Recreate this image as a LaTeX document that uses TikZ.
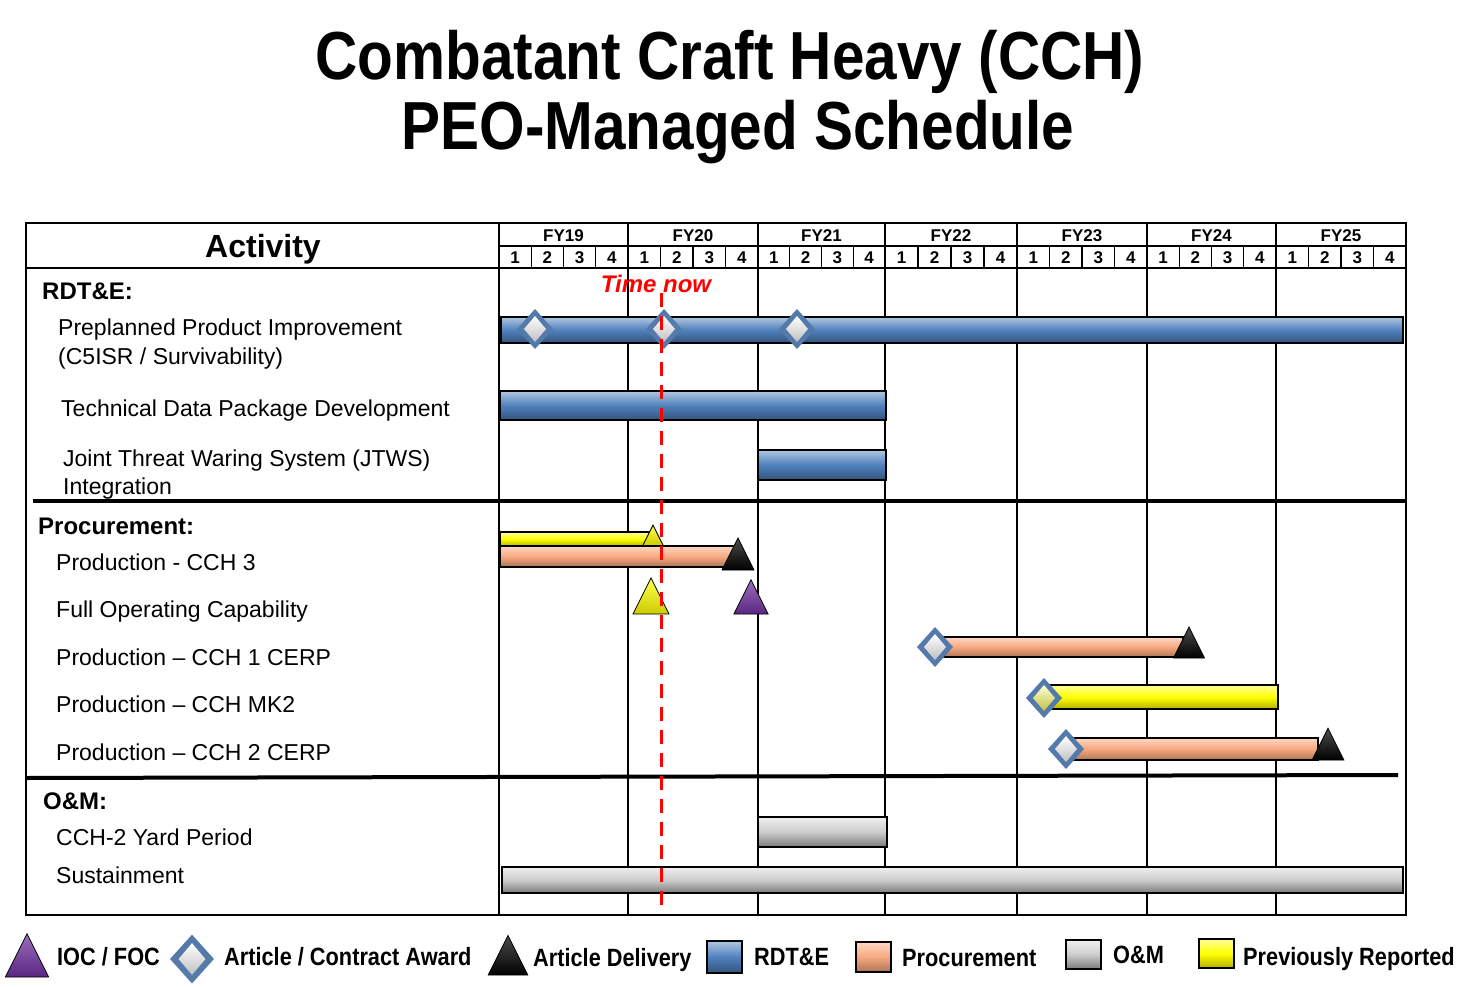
\documentclass[tikz,border=0pt]{standalone}
\usepackage{fontspec}
\setmainfont{Liberation Sans}
\definecolor{rdtblue}{RGB}{79,129,189}
\definecolor{procorange}{RGB}{247,168,126}
\definecolor{omgray}{RGB}{204,204,204}
\definecolor{prevyellow}{RGB}{255,255,0}
\definecolor{iocpurple}{RGB}{112,48,160}
\definecolor{rimblue}{RGB}{84,122,172}
\begin{document}
\begin{tikzpicture}[x=1pt, y=-1pt, every node/.style={inner sep=0pt},
  title/.style={anchor=base, font=\fontsize{68}{80}\selectfont\bfseries, xscale=0.86},
  rowlabel/.style={anchor=base west, font=\fontsize{23}{27}\selectfont},
  section/.style={anchor=base west, font=\fontsize{24}{28}\selectfont\bfseries},
  fylabel/.style={anchor=base, font=\fontsize{17}{20}\selectfont\bfseries},
  legendtext/.style={anchor=base west, font=\fontsize{25}{30}\selectfont\bfseries, xscale=0.87},
  gridline/.style={line width=1.6pt},
  sectionrule/.style={line width=4pt},
  timenow/.style={red, line width=3pt, dash pattern=on 14pt off 9pt},
  bar/.style={draw=black, line width=1.2pt},
  rdtbar/.style={bar, top color=rdtblue!45!white, bottom color=rdtblue!65!black, middle color=rdtblue},
  procbar/.style={bar, top color=procorange!45!white, bottom color=procorange!70!black, middle color=procorange},
  ombar/.style={bar, top color=omgray!30!white, bottom color=omgray!60!black, middle color=omgray},
  prevbar/.style={bar, top color=prevyellow!40!white, bottom color=prevyellow!70!black, middle color=prevyellow},
  award/.pic={
    \fill[rimblue] (0,-20) -- (18,0) -- (0,20) -- (-18,0) -- cycle;
    \shade[top color=#1!15!white, bottom color=#1!50!gray] (0,-13) -- (11,0) -- (0,13) -- (-11,0) -- cycle;
  },
  tri/.pic={
    \shade[draw=black, line width=0.8pt, top color=#1!70!white, bottom color=#1!80!black] (0,-36) -- (18,0) -- (-18,0) -- cycle;
  }]
\useasboundingbox (0,0) rectangle (1475,987);

\node[title] (title1) at (730,80) {Combatant Craft Heavy (CCH)};
\node[title] (title2) at (738,150) {PEO-Managed Schedule};

% table frame and header
\draw[gridline] (26,223) rectangle (1406,915);
\draw[gridline] (499,223) -- (499,915);
\draw[gridline] (26,268) -- (1406,268);
\draw[gridline] (499,246) -- (1406,246);
\foreach \x in {628,758,885,1017,1147,1276}
  \draw[gridline] (\x,223) -- (\x,915);
\foreach \a/\b/\fy in {499/628/19, 628/758/20, 758/885/21, 885/1017/22, 1017/1147/23, 1147/1276/24, 1276/1406/25} {
  \node[fylabel] (fy\fy) at ({(\a+\b)/2},241) {FY\fy};
  \foreach \q in {1,...,4}
    \node[fylabel] (q\fy-\q) at ({\a+(\q-0.5)*(\b-\a)/4},263) {\q};
  \foreach \q in {1,2,3}
    \draw[line width=1.2pt] ({\a+\q*(\b-\a)/4},246) -- ({\a+\q*(\b-\a)/4},268);
}
\node[anchor=base, font=\fontsize{32}{38}\selectfont\bfseries] (activity) at (263,257) {Activity};
\draw[sectionrule] (33,501) -- (1406,501);
\draw[sectionrule] (26,778) -- (1398,775);

% activity labels
\node[section] (rdte) at (42,299) {RDT\&E:};
\node[rowlabel] (ppi1) at (58,335) {Preplanned Product Improvement};
\node[rowlabel] (ppi2) at (58,364) {(C5ISR / Survivability)};
\node[rowlabel] (tdp) at (61,416) {Technical Data Package Development};
\node[rowlabel] (jtws1) at (63,466) {Joint Threat Waring System (JTWS)};
\node[rowlabel] (jtws2) at (63,494) {Integration};
\node[section] (proc) at (38,534) {Procurement:};
\node[rowlabel] (cch3) at (56,570) {Production - CCH 3};
\node[rowlabel] (foc) at (56,617) {Full Operating Capability};
\node[rowlabel] (cch1) at (56,665) {Production -- CCH 1 CERP};
\node[rowlabel] (mk2) at (56,712) {Production -- CCH MK2};
\node[rowlabel] (cch2) at (56,760) {Production -- CCH 2 CERP};
\node[section] (om) at (43,809) {O\&M:};
\node[rowlabel] (yard) at (56,845) {CCH-2 Yard Period};
\node[rowlabel] (sust) at (56,883) {Sustainment};

% bars
\draw[rdtbar] (501,317) rectangle (1403,343);
\draw[rdtbar] (500,391) rectangle (886,420);
\draw[rdtbar] (758,450) rectangle (886,480);
\draw[prevbar] (500,532) rectangle (650,546);
\pic[scale=0.58] at (653,546) {tri=prevyellow};
\draw[procbar] (500,546) rectangle (735,567);
\draw[procbar] (935,637) rectangle (1183,657);
\draw[prevbar] (1044,685) rectangle (1278,709);
\draw[procbar] (1066,738) rectangle (1318,760);
\draw[ombar] (758,817) rectangle (887,847);
\draw[ombar] (502,867) rectangle (1403,893);

% milestones
\foreach \x in {535,664,797}
  \pic at (\x,329) {award=white};
\pic[scale=0.89] at (738,570) {tri=black};
\pic at (651,614) {tri=prevyellow};
\pic[scale=0.95] at (751,614) {tri=iocpurple};
\pic at (935,647) {award=white};
\pic[scale=0.86] at (1189,658) {tri=black};
\pic at (1044,698) {award=prevyellow};
\pic at (1066,749) {award=white};
\pic[scale=0.88] at (1328,760) {tri=black};

% time now
\node[anchor=base, text=red, font=\fontsize{24}{28}\selectfont\bfseries\itshape] (now) at (656,292) {Time now};
\draw[timenow] (661,293) -- (661,905);

% legend
\pic[scale=1.2] at (27,977) {tri=iocpurple};
\node[legendtext] (legioc) at (57,965) {IOC / FOC};
\pic[scale=1.22] at (192,959) {award=white};
\node[legendtext] (legaward) at (224,965) {Article / Contract Award};
\pic[scale=1.1] at (508,975) {tri=black};
\node[legendtext] (legdel) at (533,966) {Article Delivery};
\draw[rdtbar, line width=2pt] (707,941) rectangle (742,973);
\node[legendtext] (legrdte) at (754,965) {RDT\&E};
\draw[procbar, line width=2pt] (856,942) rectangle (891,972);
\node[legendtext] (legproc) at (902,966) {Procurement};
\draw[ombar, line width=2pt] (1066,940) rectangle (1101,969);
\node[legendtext] (legom) at (1113,963) {O\&M};
\draw[prevbar, line width=2pt] (1199,939) rectangle (1234,968);
\node[legendtext] (legprev) at (1243,965) {Previously Reported};
\end{tikzpicture}
\end{document}
